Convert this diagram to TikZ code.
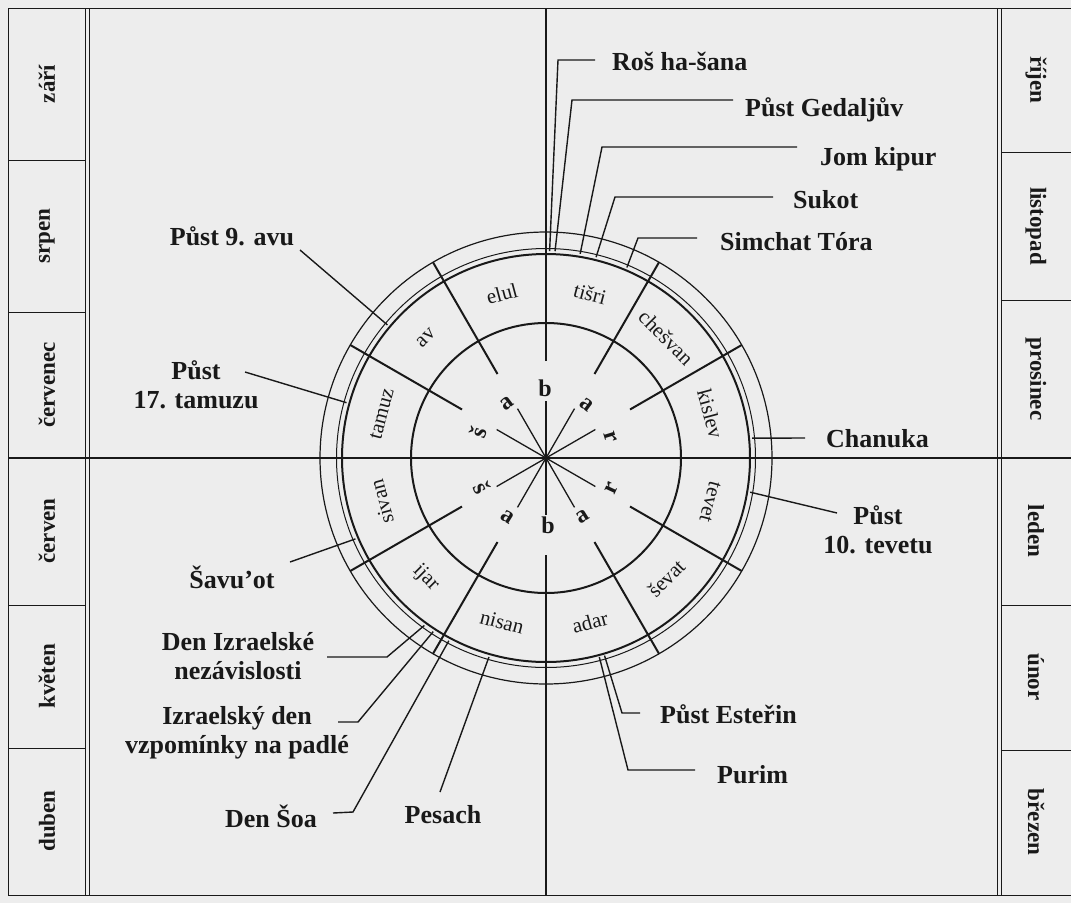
\documentclass[tikz,border=0pt]{standalone}
\usepackage{fontspec}
\setmainfont{Liberation Serif}
\definecolor{bg}{RGB}{237,237,237}
\definecolor{ink}{RGB}{25,25,25}
\begin{document}
\begin{tikzpicture}[x=1pt,y=-1pt,
  frame/.style={draw=ink,line width=1pt},
  axis/.style={draw=ink,line width=1.5pt},
  ringA/.style={draw=ink,line width=2pt},
  ringB/.style={draw=ink,line width=1pt},
  mline/.style={draw=ink,line width=2pt},
  spoke/.style={draw=ink,line width=1.3pt},
  lead/.style={draw=ink,line width=1.4pt},
  hol/.style={font=\fontsize{26}{29}\selectfont\bfseries,inner sep=0pt,align=center,text=ink},
  mon/.style={font=\fontsize{21}{21}\selectfont,inner sep=0pt,text=ink},
  col/.style={font=\fontsize{23}{23}\selectfont\bfseries,inner sep=0pt,text=ink},
  let/.style={font=\fontsize{24}{24}\selectfont\bfseries,inner sep=0pt,text=ink}]
\fill[bg] (0,0) rectangle (1071,903);
\useasboundingbox (0,0) rectangle (1071,903);
% frame
\draw[frame] (8,8) -- (1071,8);
\draw[frame] (8,895) -- (1071,895);
\draw[frame] (8,8) -- (8,895);
\draw[frame] (85,8) -- (85,895);
\draw[frame] (89,8) -- (89,895);
\draw[frame] (997,8) -- (997,895);
\draw[frame] (1001,8) -- (1001,895);
\foreach \y in {160,312,605,748} {\draw[frame] (8,\y) -- (85,\y);}
\foreach \y in {152,300,605,750} {\draw[frame] (1001,\y) -- (1071,\y);}
% column labels
\node[col,rotate=90] (m1) at (47,84) {září};
\node[col,rotate=90] (m2) at (47,236) {srpen};
\node[col,rotate=90] (m3) at (47,385) {červenec};
\node[col,rotate=90] (m4) at (47,531) {červen};
\node[col,rotate=90] (m5) at (47,676) {květen};
\node[col,rotate=90] (m6) at (47,821) {duben};
\node[col,rotate=-90] (m7) at (1036,80) {říjen};
\node[col,rotate=-90] (m8) at (1036,226) {listopad};
\node[col,rotate=-90] (m9) at (1036,379) {prosinec};
\node[col,rotate=-90] (m10) at (1036,531) {leden};
\node[col,rotate=-90] (m11) at (1036,677) {únor};
\node[col,rotate=-90] (m12) at (1036,822) {březen};
% horizontal axis
\draw[axis] (8,458) -- (1071,458);
% wheel
\begin{scope}[shift={(546,458)},yscale=-1]
  \draw[ringA] (0,0) circle (135);
  \draw[ringA] (0,0) circle (204);
  \draw[ringB] (0,0) circle (209.5);
  \draw[ringB,line width=1.2pt] (0,0) circle (226);
  \foreach \a in {30,60,120,150,-30,-60,-120,-150} {\draw[mline] (\a:97) -- (\a:226);}
  \foreach \a in {30,60,90,120,150,-30,-60,-90,-120,-150} {\draw[spoke] (0,0) -- (\a:57);}
  \draw[axis] (0,97) -- (0,450);
  \draw[axis] (0,-97) -- (0,-437);
  % hebrew months
  \node[mon,rotate=-15]  (tisri) at (75:170) {tišri};
  \node[mon,rotate=-45]  (chesvan) at (45:170) {chešvan};
  \node[mon,rotate=-75]  (kislev) at (15:170) {kislev};
  \node[mon,rotate=-105] (tevet) at (-15:170) {tevet};
  \node[mon,rotate=45]   (sevat) at (-45:170) {ševat};
  \node[mon,rotate=15]   (adar) at (-75:170) {adar};
  \node[mon,rotate=-15]  (nisan) at (-105:170) {nisan};
  \node[mon,rotate=-45]  (ijar) at (-135:170) {ijar};
  \node[mon,rotate=105]  (sivan) at (-165:170) {sivan};
  \node[mon,rotate=75]   (tamuz) at (165:170) {tamuz};
  \node[mon,rotate=45]   (av) at (135:170) {av};
  \node[mon,rotate=15]   (elul) at (105:170) {elul};
  % inner letters
  \node[let] (l1) at (-1,70) {b};
  \node[let,rotate=-37] (l2) at (41,53) {a};
  \node[let,rotate=-73] (l3) at (64,21) {r};
  \node[let,rotate=65] (l4) at (66,-30) {r};
  \node[let,rotate=32] (l5) at (37,-59) {a};
  \node[let] (l6) at (2,-67) {b};
  \node[let,rotate=-32] (l7) at (-38,-59) {a};
  \node[let,rotate=-63] (l8) at (-64,-30) {š};
  \node[let,rotate=70] (l9) at (-68,26) {š};
  \node[let,rotate=37] (l10) at (-39,55) {a};
  % holiday points on the ring
  \coordinate (p-rosh) at (89:207);
  \coordinate (p-ged) at (87.5:207);
  \coordinate (p-jom) at (80.5:207);
  \coordinate (p-suk) at (76:207);
  \coordinate (p-sim) at (67:207);
  \coordinate (p-chan) at (5.5:207);
  \coordinate (p-tev) at (-9.5:207);
  \coordinate (p-est) at (-73.5:206);
  \coordinate (p-pur) at (-75:206);
  \coordinate (p-pes) at (-106:207);
  \coordinate (p-soa) at (-118:207);
  \coordinate (p-vzp) at (-123:207);
  \coordinate (p-nez) at (-126:207);
  \coordinate (p-sav) at (-157:207);
  \coordinate (p-tam) at (164.5:207);
  \coordinate (p-av) at (140:207);
\end{scope}
% holiday labels
\node[hol,anchor=base west] (rosh) at (612,70) {Roš ha-šana};
\node[hol,anchor=base west] (ged) at (745,116) {Půst Gedaljův};
\node[hol,anchor=base west] (jom) at (820,165) {Jom kipur};
\node[hol,anchor=base west] (suk) at (793,208) {Sukot};
\node[hol,anchor=base west] (sim) at (720,250) {Simchat Tóra};
\node[hol,anchor=base west] (chan) at (826,447) {Chanuka};
\node[hol] (tev) at (878,530) {Půst\\10. tevetu};
\node[hol,anchor=base west] (est) at (660,723) {Půst Esteřin};
\node[hol,anchor=base west] (pur) at (717,783) {Purim};
\node[hol,anchor=base] (pes) at (443,823) {Pesach};
\node[hol,anchor=base east] (soa) at (317,827) {Den Šoa};
\node[hol] (vzp) at (237,733) {Izraelský den\\vzpomínky na padlé};
\node[hol] (nez) at (238,656) {Den Izraelské\\nezávislosti};
\node[hol] (sav) at (232,577) {Šavu’ot};
\node[hol] (tam) at (196,385) {Půst\\17. tamuzu};
\node[hol,anchor=base] (avf) at (232,245) {Půst 9. avu};
% leaders
\draw[lead] (p-rosh) -- (558,60) -- (595,60);
\draw[lead] (p-ged) -- (572,100) -- (733,100);
\draw[lead] (p-jom) -- (602,147) -- (797,147);
\draw[lead] (p-suk) -- (615,197) -- (773,197);
\draw[lead] (p-sim) -- (638,238) -- (697,238);
\draw[lead] (p-chan) -- (805,438);
\draw[lead] (p-tev) -- (837,513);
\draw[lead] (p-est) -- (622,713) -- (640,713);
\draw[lead] (p-pur) -- (628,770) -- (695,770);
\draw[lead] (p-pes) -- (440,792);
\draw[lead] (p-soa) -- (353,812) -- (333,813);
\draw[lead] (p-vzp) -- (358,722) -- (338,722);
\draw[lead] (p-nez) -- (387,657) -- (327,657);
\draw[lead] (p-sav) -- (290,562);
\draw[lead] (p-tam) -- (245,372);
\draw[lead] (p-av) -- (300,250);
\end{tikzpicture}
\end{document}
